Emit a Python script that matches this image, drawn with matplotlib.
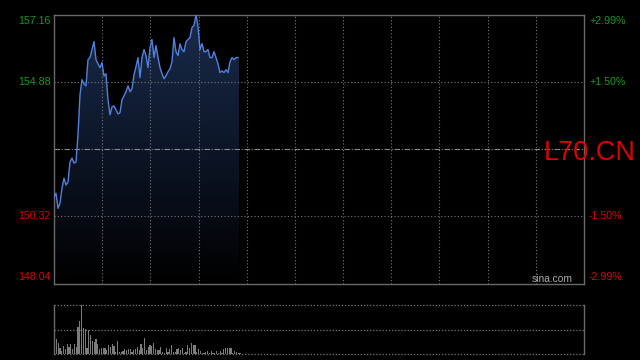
import numpy as np
import matplotlib
matplotlib.use("Agg")
import matplotlib.pyplot as plt
from matplotlib.colors import LinearSegmentedColormap

plt.rcParams['font.family'] = ['Liberation Sans', 'DejaVu Sans']

# ---- data ----
prices = [150.97, 151.10, 150.59, 150.76, 151.27, 151.61, 151.38, 151.48, 152.16, 152.29,
          152.12, 152.16, 153.08, 154.44, 154.95, 154.81, 154.74, 155.63, 155.70, 155.97,
          156.24, 155.63, 155.49, 155.36, 155.53, 155.08, 155.15, 154.27, 153.76, 154.03,
          154.06, 153.93, 153.79, 153.83, 154.27, 154.40, 154.54, 154.74, 154.54, 154.64,
          155.12, 155.39, 155.70, 155.02, 155.70, 155.97, 155.77, 155.36, 156.04, 156.31,
          155.70, 156.11, 155.70, 155.36, 155.15, 154.98, 155.08, 155.22, 155.32, 155.56,
          156.38, 155.90, 155.77, 156.17, 155.97, 155.90, 156.24, 156.31, 156.38, 156.72,
          156.79, 157.16, 156.75, 155.97, 156.17, 155.90, 155.90, 155.97, 155.70, 155.70,
          155.90, 155.70, 155.49, 155.19, 155.25, 155.19, 155.29, 155.19, 155.56, 155.70,
          155.63, 155.70, 155.70]
volumes = [0.65, 0.31, 0.23, 0.13, 0.07, 0.17, 0.10, 0.21, 0.15, 0.21,
           0.10, 0.21, 0.15, 0.55, 0.67, 1.00, 0.53, 0.52, 0.13, 0.50,
           0.39, 0.27, 0.25, 0.31, 0.21, 0.10, 0.12, 0.12, 0.13, 0.09,
           0.19, 0.15, 0.21, 0.17, 0.05, 0.27, 0.05, 0.04, 0.07, 0.10,
           0.09, 0.11, 0.11, 0.04, 0.09, 0.11, 0.14, 0.09, 0.21, 0.12,
           0.32, 0.09, 0.15, 0.19, 0.17, 0.22, 0.10, 0.09, 0.09, 0.14,
           0.04, 0.03, 0.12, 0.04, 0.10, 0.19, 0.05, 0.04, 0.11, 0.12,
           0.09, 0.12, 0.03, 0.04, 0.19, 0.12, 0.23, 0.19, 0.19, 0.05,
           0.10, 0.07, 0.03, 0.03, 0.05, 0.07, 0.03, 0.07, 0.03, 0.03,
           0.07, 0.03, 0.07, 0.02, 0.10, 0.13, 0.12, 0.13, 0.12, 0.03,
           0.07, 0.04, 0.03, 0.02]
left_labels = ["157.16", "154.88", "150.32", "148.04"]
left_values = [157.16, 154.88, 150.32, 148.04]
right_labels = ["+2.99%", "+1.50%", "-1.50%", "-2.99%"]
prev_close = 152.60
y_min, y_max = 148.04, 157.16
symbol = "L70.CN"

GREEN = "#1a9a1a"
RED = "#e00000"
GRID = "#777777"
FRAME = "#6a6a6a"

fig = plt.figure(figsize=(6.4, 3.6), dpi=100, facecolor="black")
W, H = 640, 360
ax = fig.add_axes([54/W, (H-283.5)/H, 530/W, 269/H], facecolor="black")
axv = fig.add_axes([54/W, (H-354.3)/H, 530/W, 49.6/H], facecolor="black")

x = np.arange(len(prices))
ax.set_xlim(0, 265)
ax.set_ylim(y_min, y_max)

# gradient fill under line
cmap = LinearSegmentedColormap.from_list("g", ["#000000", "#0d1628", "#1a2b4c"])
grad = np.linspace(0, 1, 256).reshape(-1, 1)
im = ax.imshow(grad, extent=[0, x[-1] + 0.5, y_min, y_max], origin="lower",
               cmap=cmap, aspect="auto", zorder=1)
poly = ax.fill_between(np.append(x, x[-1] + 0.5), np.append(prices, prices[-1]), y_min,
                       color="none", lw=0)
clip = poly.get_paths()[0]
im.set_clip_path(clip, transform=ax.transData)

ax.plot(x, prices, color="#4f82de", lw=1.0, zorder=3)

# grid
for gx in np.linspace(0, 265, 12)[1:-1]:
    ax.axvline(gx, color=GRID, lw=0.8, ls=(0, (1, 2)), zorder=2)
for gy in [154.88, 150.32]:
    ax.axhline(gy, color=GRID, lw=0.8, ls=(0, (1, 2)), zorder=2)
ax.axhline(prev_close, color="#8a8a8a", lw=0.8, ls=(0, (5, 1.5, 1, 1.5)), zorder=2)

for s in ax.spines.values():
    s.set_color(FRAME)
    s.set_linewidth(1.0)
ax.set_xticks([])
ax.set_yticks([])

# labels
vas = ["top", "center", "center", "bottom"]
offs = [-2, 0, 0, 2]
for lab, val, rl, va, off in zip(left_labels, left_values, right_labels, vas, offs):
    col = GREEN if val > prev_close else RED
    ax.annotate(lab, (0, val), xycoords=("axes fraction", "data"), xytext=(-3, off),
                textcoords="offset pixels", ha="right", va=va, color=col, fontsize=7.7)
    ax.annotate(rl, (1, val), xycoords=("axes fraction", "data"), xytext=(5, off),
                textcoords="offset pixels", ha="left", va=va, color=col, fontsize=7.7)

fig.text(544/W, (H-160)/H, symbol, color=RED, fontsize=19.5, ha="left", va="baseline")
fig.text(573/W, (H-284)/H, "sina.com", color="#aaaaaa", fontsize=7.4, ha="right", va="bottom")

# volume
xv = np.arange(len(volumes))
axv.bar(xv, volumes, width=0.62, color="#7c7c7c", zorder=2, antialiased=False)
axv.set_xlim(-0.3, 294)
axv.set_ylim(0, 1.0)
for gy in [0, 0.5, 1.0]:
    axv.axhline(gy, color=GRID, lw=0.9, ls=(0, (1, 1.5)), zorder=1, clip_on=False)
for k in ["top", "bottom"]:
    axv.spines[k].set_visible(False)
for k in ["left", "right"]:
    axv.spines[k].set_color(FRAME)
    axv.spines[k].set_linewidth(1.0)
axv.set_xticks([])
axv.set_yticks([])

fig.savefig("out.png", dpi=100, facecolor="black")
